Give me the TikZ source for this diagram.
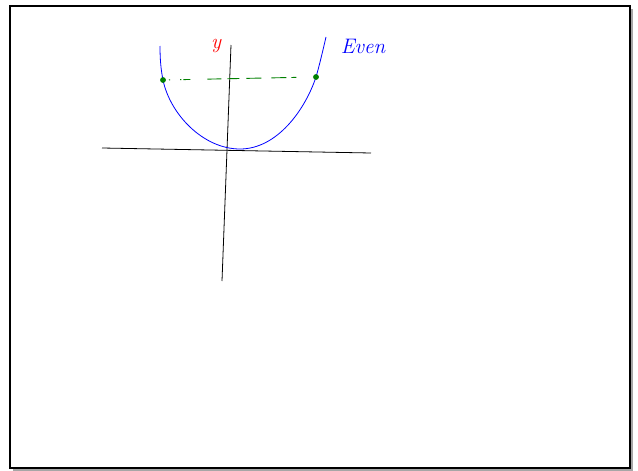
\documentclass[tikz,border=0pt]{standalone}
\begin{document}
\begin{tikzpicture}[x=1pt,y=-1pt,
  axis/.style={black,line width=0.8pt},
  curve/.style={blue,line width=0.8pt},
  level/.style={green!50!black,line width=0.9pt,dash pattern=on 0pt off 6pt on 1.2pt off 10pt on 1.2pt off 2pt on 7pt off 17pt on 14pt off 6pt on 12pt off 7pt on 15pt off 10pt on 15pt off 5pt on 5pt off 30pt},
  dotmark/.style={circle,fill=green!50!black,inner sep=0pt,minimum size=5.5pt},
  hand/.style={inner sep=0pt,font=\itshape\fontsize{21}{21}\selectfont}]
\useasboundingbox (0,0) rectangle (638,471);
% frame with shadow
\fill[gray!70] (13,9) rectangle (633,471);
\fill[white] (10,6) rectangle (630,468);
\draw[line width=1.6pt] (10,6) rectangle (630,468);
% axes
\coordinate (xl) at (102,148);
\coordinate (xr) at (371,153);
\coordinate (yt) at (231,45);
\coordinate (yb) at (222,281);
\draw[axis] (xl) -- (xr);
\draw[axis] (yt) -- (yb);
% level points
\node[dotmark] (p1) at (163,80) {};
\node[dotmark] (p2) at (316,77) {};
% curve
\coordinate (cl) at (160,46);
\coordinate (cm) at (240,149);
\coordinate (cr) at (326,37);
\draw[curve] (cl) .. controls (160,60) and (161,70) .. (p1.center)
  .. controls (170,114) and (203,149) .. (cm)
  .. controls (277,149) and (305,110) .. (p2.center)
  .. controls (319,67) and (323,50) .. (cr);
% level line
\draw[level] (p1.center) -- (p2.center);
\node[dotmark] at (p1) {};
\node[dotmark] at (p2) {};
% labels
\node[hand,red] (ylab) at (216,46) {y};
\node[hand,blue] (even) at (363,46) {Even};
\end{tikzpicture}
\end{document}
